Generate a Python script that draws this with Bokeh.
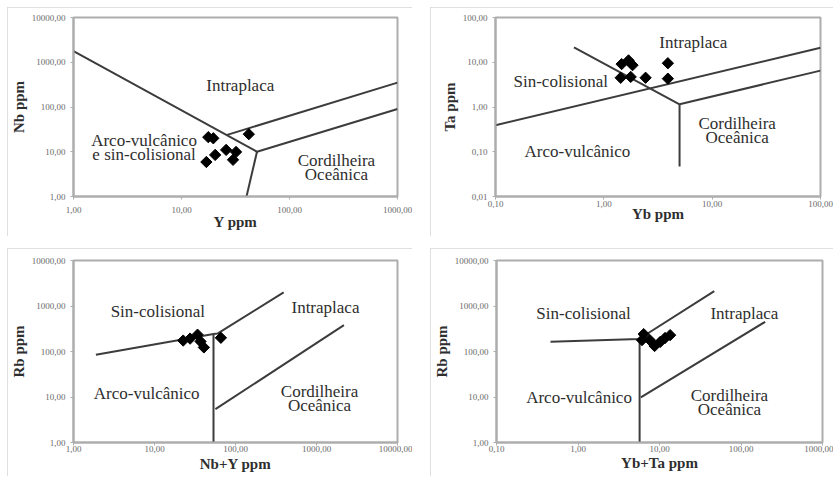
import numpy as np
from bokeh.plotting import figure
from bokeh.layouts import row, column
from bokeh.models import Range1d, FixedTicker, CustomJSTickFormatter, Label, Spacer
from bokeh.embed import file_html
from bokeh.resources import INLINE

# ---------------- data ----------------
# Panel 1: Nb vs Y
p1_y_ppm = [17.7, 19.7, 42.0, 25.9, 32.0, 20.5, 17.0, 30.0]
p1_nb_ppm = [21.2, 20.0, 24.7, 11.0, 9.9, 8.5, 5.9, 6.6]
p1_line_a_x = [1.0, 50.0, 1000.0]
p1_line_a_y = [1780.0, 10.0, 90.0]
p1_line_b_x = [50.0, 40.0]
p1_line_b_y = [10.0, 1.0]
p1_line_c_x = [26.0, 1000.0]
p1_line_c_y = [23.5, 350.0]

# Panel 2: Ta vs Yb
p2_yb_ppm = [1.69, 1.46, 1.84, 1.43, 1.77, 2.43, 3.9, 3.9]
p2_ta_ppm = [11.0, 9.1, 8.6, 4.5, 4.7, 4.5, 9.5, 4.3]
p2_line_a_x = [0.1, 100.0]
p2_line_a_y = [0.39, 21.0]
p2_line_b_x = [0.53, 5.0, 5.0]
p2_line_b_y = [21.5, 1.15, 0.047]
p2_line_c_x = [5.0, 100.0]
p2_line_c_y = [1.15, 6.5]

# Panel 3: Rb vs Nb+Y
p3_nby_ppm = [22.6, 27.5, 34.0, 37.0, 40.7, 66.0]
p3_rb_ppm = [174.0, 192.0, 234.0, 166.0, 123.0, 200.0]
p3_line_a_x = [1.89, 53.5, 60.5, 393.0]
p3_line_a_y = [85.0, 243.0, 250.0, 2000.0]
p3_line_b_x = [53.5, 53.5]
p3_line_b_y = [243.0, 1.0]
p3_line_c_x = [56.5, 2180.0]
p3_line_c_y = [5.4, 380.0]

# Panel 4: Rb vs Yb+Ta
p4_ybta_ppm = [6.4, 6.1, 7.6, 8.7, 10.2, 11.7, 13.5]
p4_rb_ppm = [241.0, 178.0, 178.0, 132.0, 162.0, 198.0, 229.0]
p4_line_a_x = [0.46, 5.6, 47.0]
p4_line_a_y = [164.0, 188.0, 2130.0]
p4_line_b_x = [5.7, 5.7]
p4_line_b_y = [188.0, 1.0]
p4_line_c_x = [5.9, 198.0]
p4_line_c_y = [9.8, 450.0]

# ticks
ticks_1_to_10000 = [1, 10, 100, 1000, 10000]
ticks_1_to_1000 = [1, 10, 100, 1000]
ticks_001_to_100 = [0.01, 0.1, 1, 10, 100]
ticks_01_to_100 = [0.1, 1, 10, 100]
ticks_01_to_1000 = [0.1, 1, 10, 100, 1000]

# region labels (each entry: list of lines)
p1_labels = [["Intraplaca"], ["Arco-vulcânico", "e sin-colisional"], ["Cordilheira", "Oceânica"]]
p1_lab_x = [35, 4.5, 272]
p1_lab_y = [300, 12.7, 4.4]
p2_labels = [["Intraplaca"], ["Sin-colisional"], ["Arco-vulcânico"], ["Cordilheira", "Oceânica"]]
p2_lab_x = [6.7, 0.40, 0.57, 17]
p2_lab_y = [27, 3.7, 0.1, 0.30]
p3_labels = [["Sin-colisional"], ["Intraplaca"], ["Arco-vulcânico"], ["Cordilheira", "Oceânica"]]
p3_lab_x = [11, 1290, 8, 1090]
p3_lab_y = [740, 950, 12, 9.5]
p4_labels = [["Sin-colisional"], ["Intraplaca"], ["Arco-vulcânico"], ["Cordilheira", "Oceânica"]]
p4_lab_x = [1.17, 110, 1.03, 72]
p4_lab_y = [690, 690, 10, 7.5]

SERIF = "Liberation Serif"
LINE_COL = "#3c3c3c"
FRAME_COL = "#adadad"
TEXT_COL = "#2e2e2e"
LINE_GAP = 14

fmt = CustomJSTickFormatter(code="return tick.toFixed(2).replace('.', ',');")


def make_panel(w, h, borders, xr, yr, xticks, yticks, xlabel, ylabel, xstand):
    left, right, top, bottom = borders
    tick_stand, label_stand = xstand
    p = figure(width=w, height=h, x_axis_type="log", y_axis_type="log",
               x_range=Range1d(*xr), y_range=Range1d(*yr),
               output_backend="svg", toolbar_location=None,
               min_border_left=left, min_border_right=right,
               min_border_top=top, min_border_bottom=bottom,
               styles={"outline": "2px solid #d6d6d6", "outline-offset": "-2px"})
    p.grid.visible = False
    p.outline_line_color = FRAME_COL
    p.outline_line_width = 2
    p.background_fill_color = "white"
    p.border_fill_color = "white"
    p.xaxis.ticker = FixedTicker(ticks=xticks)
    p.yaxis.ticker = FixedTicker(ticks=yticks)
    for ax in (p.xaxis[0], p.yaxis[0]):
        ax.formatter = fmt
        ax.axis_line_color = FRAME_COL
        ax.axis_line_width = 2
        ax.major_tick_line_color = FRAME_COL
        ax.major_tick_in = 0
        ax.major_tick_out = 3
        ax.minor_tick_line_color = None
        ax.major_label_text_font = SERIF
        ax.major_label_text_font_size = "9px"
        ax.major_label_text_color = "#6a6a6a"
        ax.axis_label_text_font = SERIF
        ax.axis_label_text_font_size = "15px"
        ax.axis_label_text_font_style = "bold"
        ax.axis_label_text_color = TEXT_COL
    p.xaxis.axis_label = xlabel
    p.yaxis.axis_label = ylabel
    p.xaxis.major_label_standoff = tick_stand
    p.xaxis.axis_label_standoff = label_stand
    p.yaxis.major_label_standoff = 5
    p.yaxis.axis_label_standoff = 2
    return p


def add_lines(p, lines):
    for lx, ly in lines:
        p.line(lx, ly, line_color=LINE_COL, line_width=2)


def add_labels(p, xs, ys, texts):
    for x, y, lines in zip(xs, ys, texts):
        n = len(lines)
        for i, t in enumerate(lines):
            off = ((n - 1) / 2 - i) * LINE_GAP
            p.add_layout(Label(x=x, y=y, text=t, y_offset=off,
                               text_align="center", text_baseline="middle",
                               text_font=SERIF, text_font_size="17px",
                               text_color=TEXT_COL))


def add_points(p, xs, ys):
    p.scatter(xs, ys, marker="square", angle=np.pi / 4, size=8,
              fill_color="black", line_color="black")


# Panel 1
p1 = make_panel(405, 229, (61, 15, 9, 40), (1, 1000), (1, 10000),
                ticks_1_to_1000, ticks_1_to_10000, "Y ppm", "Nb ppm", (7, -2))
add_lines(p1, [(p1_line_a_x, p1_line_a_y), (p1_line_b_x, p1_line_b_y), (p1_line_c_x, p1_line_c_y)])
add_labels(p1, p1_lab_x, p1_lab_y, p1_labels)
add_points(p1, p1_y_ppm, p1_nb_ppm)

# Panel 2
p2 = make_panel(403, 229, (65, 13, 10, 35), (0.1, 100), (0.01, 100),
                ticks_01_to_100, ticks_001_to_100, "Yb ppm", "Ta ppm", (1, -4))
add_lines(p2, [(p2_line_a_x, p2_line_a_y), (p2_line_b_x, p2_line_b_y), (p2_line_c_x, p2_line_c_y)])
add_labels(p2, p2_lab_x, p2_lab_y, p2_labels)
add_points(p2, p2_yb_ppm, p2_ta_ppm)

# Panel 3
p3 = make_panel(405, 228, (62, 15, 10, 34), (1, 10000), (1, 10000),
                ticks_1_to_10000, ticks_1_to_10000, "Nb+Y ppm", "Rb ppm", (0, 1))
add_lines(p3, [(p3_line_a_x, p3_line_a_y), (p3_line_b_x, p3_line_b_y), (p3_line_c_x, p3_line_c_y)])
add_labels(p3, p3_lab_x, p3_lab_y, p3_labels)
add_points(p3, p3_nby_ppm, p3_rb_ppm)

# Panel 4
p4 = make_panel(403, 228, (60, 11, 12, 33), (0.1, 1000), (1, 10000),
                ticks_01_to_1000, ticks_1_to_10000, "Yb+Ta ppm", "Rb ppm", (0, 0))
add_lines(p4, [(p4_line_a_x, p4_line_a_y), (p4_line_b_x, p4_line_b_y), (p4_line_c_x, p4_line_c_y)])
add_labels(p4, p4_lab_x, p4_lab_y, p4_labels)
add_points(p4, p4_ybta_ppm, p4_rb_ppm)

layout = column(
    Spacer(height=7),
    row(Spacer(width=7), p1, Spacer(width=18), p2),
    Spacer(height=12),
    row(Spacer(width=7), p3, Spacer(width=18), p4),
)
open("out.html", "w").write(file_html(layout, INLINE))
